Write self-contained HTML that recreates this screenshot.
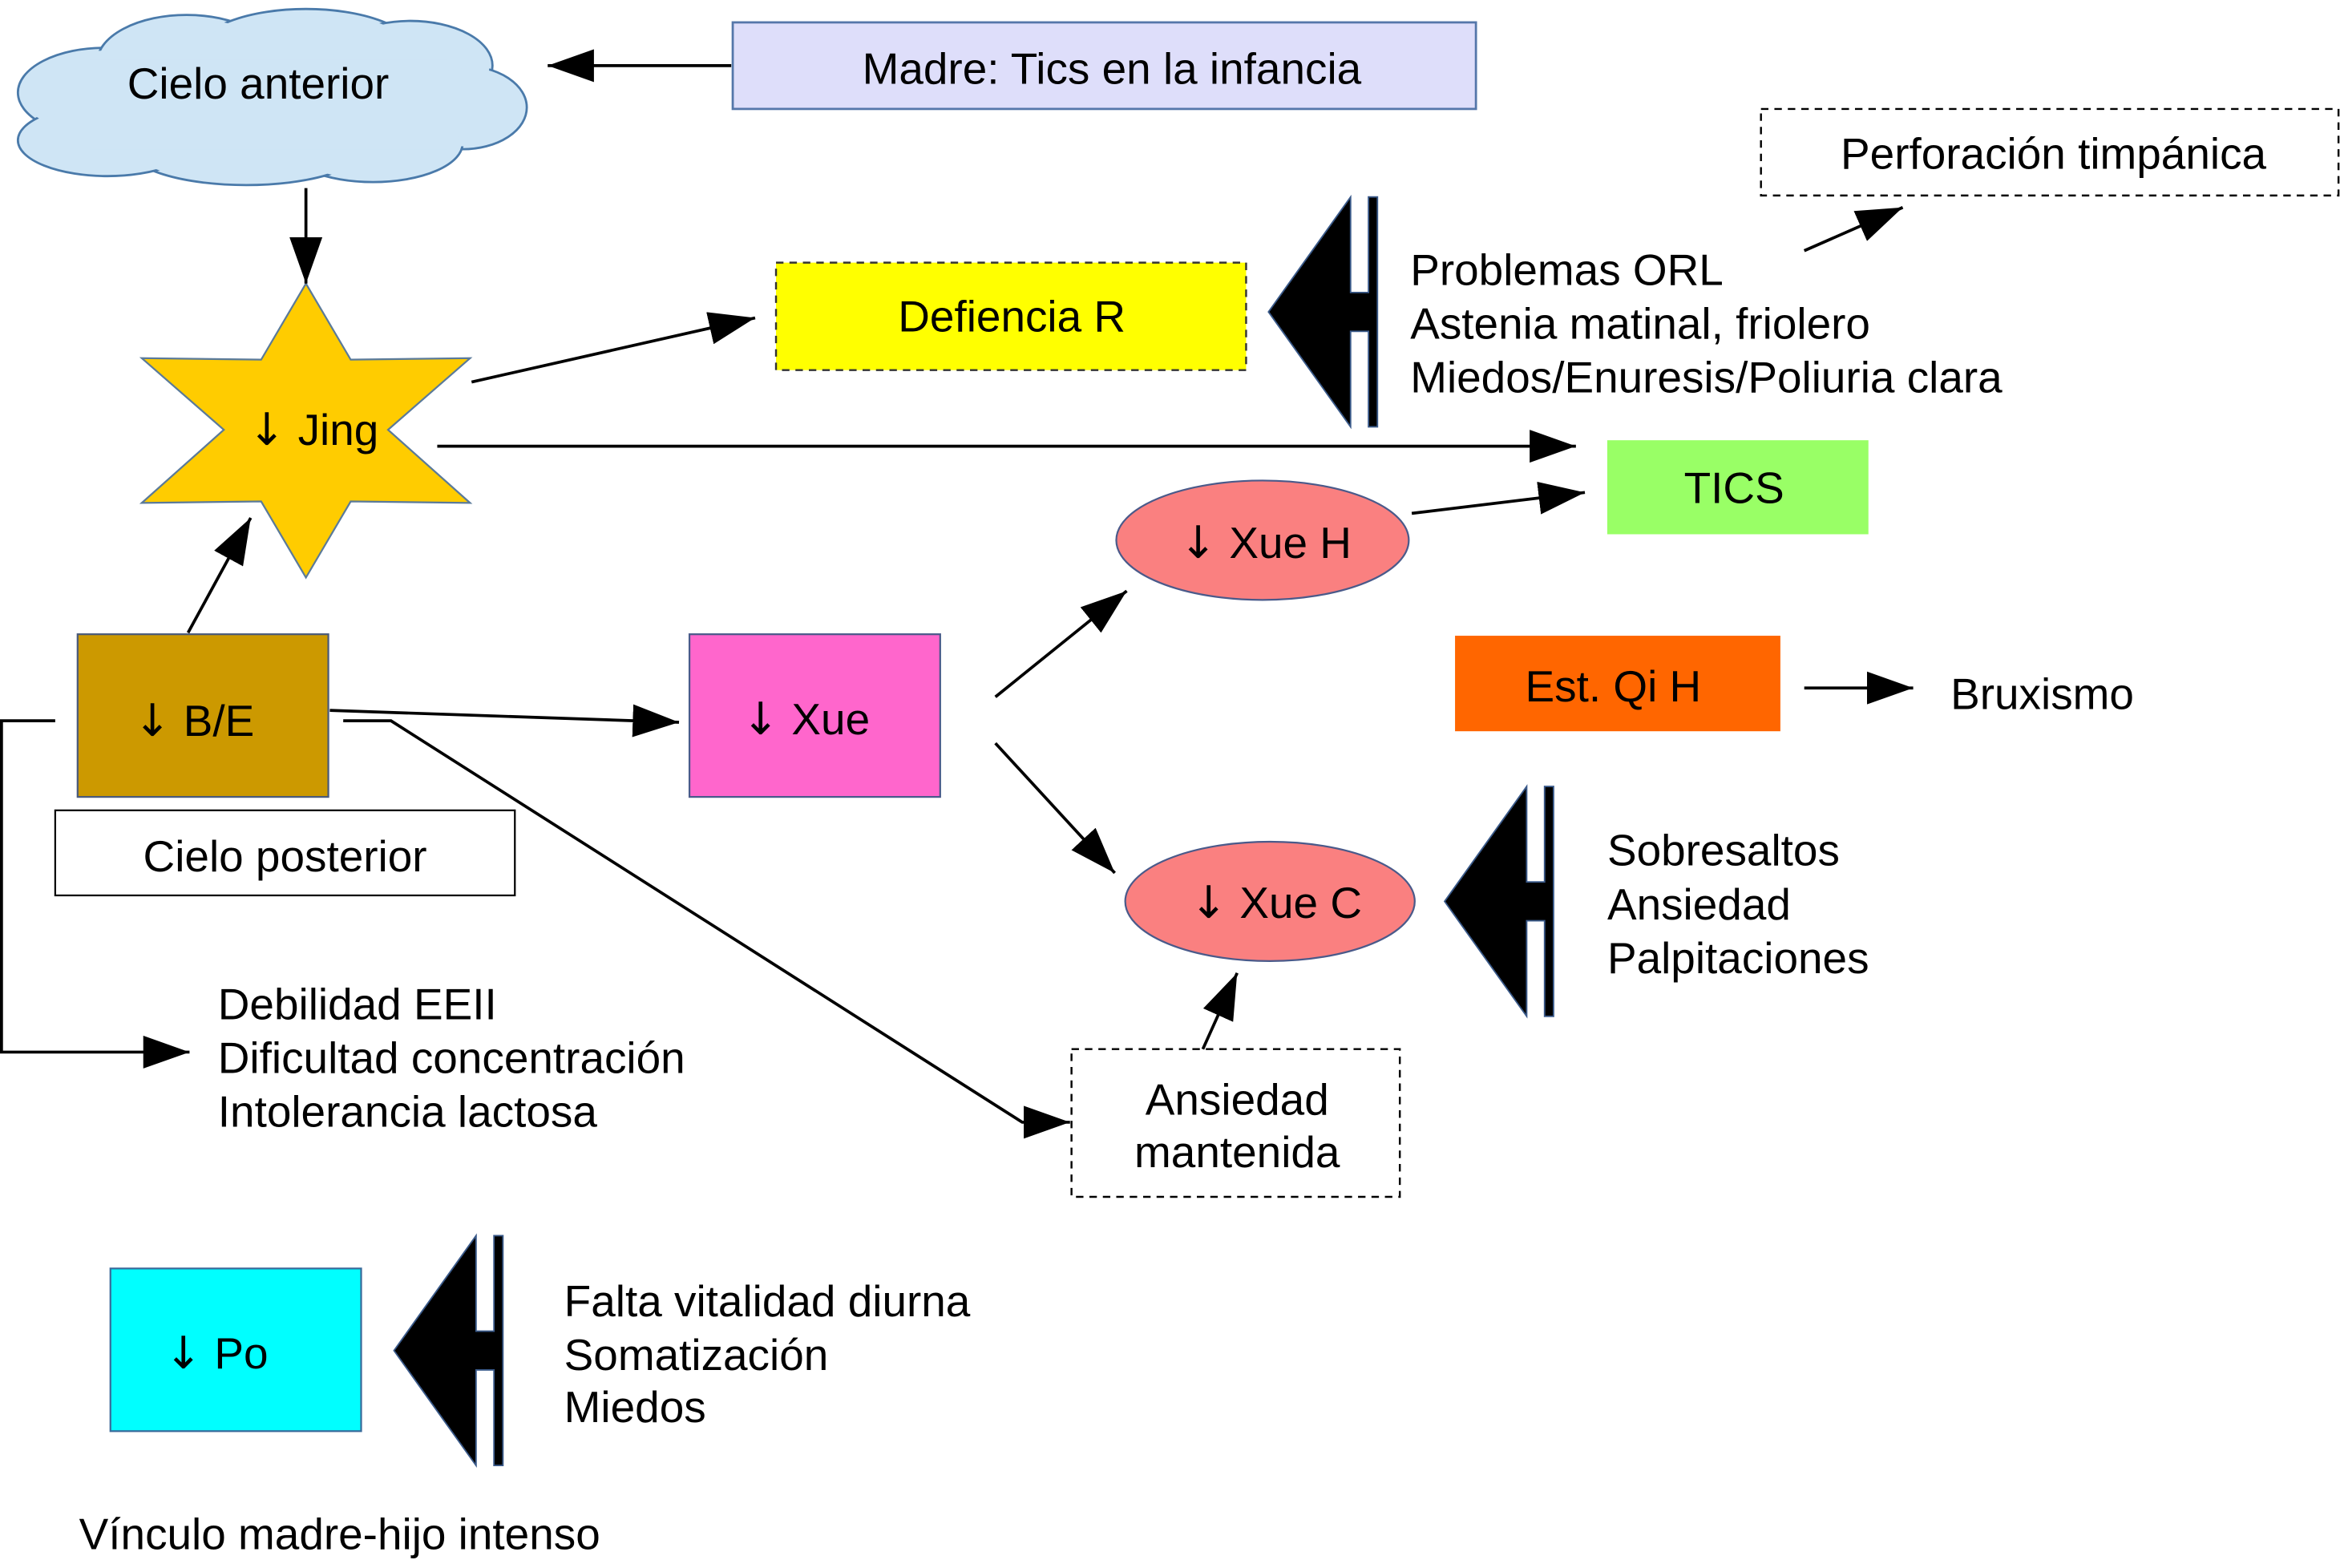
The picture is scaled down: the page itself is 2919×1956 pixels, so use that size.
<!DOCTYPE html>
<html><head><meta charset="utf-8"><style>
html,body{margin:0;padding:0;background:#fff;}
svg{display:block;}
text{font-family:"Liberation Sans",sans-serif;font-size:29.5px;fill:#000;}
.ar{font-family:"DejaVu Sans",sans-serif;font-size:30px;}
</style></head><body>
<svg width="2919" height="1956" viewBox="0 0 1568 1050.7" preserveAspectRatio="none" xmlns="http://www.w3.org/2000/svg">
<defs>
<marker id="a" markerWidth="32" markerHeight="22" refX="31" refY="11" orient="auto" markerUnits="userSpaceOnUse"><path d="M0,0 L31,11 L0,22z" fill="#000"/></marker>
<path id="big" d="M0,77 L55,0 L55,64 L67,64 L67,0 L73,0 L73,154 L67,154 L67,90 L55,90 L55,154 Z" fill="#000" stroke="#3a5a8a" stroke-width="1"/>
</defs>
<rect width="1568" height="1050.7" fill="#fff"/>

<!-- cloud -->
<g stroke="#4a7aaa" stroke-width="1.5" fill="#cfe5f5">
<ellipse cx="70" cy="62" rx="58" ry="30"/>
<ellipse cx="125" cy="42" rx="60" ry="32"/>
<ellipse cx="205" cy="34" rx="72" ry="28"/>
<ellipse cx="275" cy="44" rx="55" ry="30"/>
<ellipse cx="310" cy="72" rx="43" ry="28"/>
<ellipse cx="250" cy="96" rx="60" ry="26"/>
<ellipse cx="165" cy="100" rx="78" ry="24"/>
<ellipse cx="72" cy="94" rx="60" ry="24"/>
</g>
<g fill="#cfe5f5">
<ellipse cx="70" cy="62" rx="56" ry="28"/>
<ellipse cx="125" cy="42" rx="58" ry="30"/>
<ellipse cx="205" cy="34" rx="70" ry="26"/>
<ellipse cx="275" cy="44" rx="53" ry="28"/>
<ellipse cx="310" cy="72" rx="41" ry="26"/>
<ellipse cx="250" cy="96" rx="58" ry="24"/>
<ellipse cx="165" cy="100" rx="76" ry="22"/>
<ellipse cx="72" cy="94" rx="58" ry="22"/>
<rect x="60" y="40" width="240" height="60"/>
</g>
<text x="173" y="66" text-anchor="middle">Cielo anterior</text>

<rect x="491" y="15" width="498" height="58" fill="#dedefa" stroke="#5577aa" stroke-width="1.5"/>
<text x="745" y="56" text-anchor="middle">Madre: Tics en la infancia</text>

<rect x="1180" y="73" width="387" height="58" fill="none" stroke="#000" stroke-width="1.3" stroke-dasharray="5,4"/>
<text x="1376" y="113" text-anchor="middle">Perforación timpánica</text>

<rect x="520" y="176" width="315" height="72" fill="#ffff00" stroke="#333" stroke-width="1.3" stroke-dasharray="5,4"/>
<text x="678" y="222" text-anchor="middle">Defiencia R</text>

<polygon points="205,190 235,241 315,240 260,288 315,337 235,336 205,387 175,336 95,337 150,288 95,240 175,241" fill="#ffcc00" stroke="#5a7a9a" stroke-width="1.2"/>
<text x="210" y="298" text-anchor="middle"><tspan class="ar">↓</tspan> Jing</text>

<use href="#big" x="850" y="132"/>
<text x="945" y="191">Problemas ORL</text>
<text x="945" y="227">Astenia matinal, friolero</text>
<text x="945" y="263">Miedos/Enuresis/Poliuria clara</text>

<rect x="1077" y="295" width="175" height="63" fill="#99ff66"/>
<text x="1162" y="337" text-anchor="middle">TICS</text>

<ellipse cx="846" cy="362" rx="98" ry="40" fill="#fa8080" stroke="#4a5a8a" stroke-width="1.2"/>
<text x="848" y="374" text-anchor="middle"><tspan class="ar">↓</tspan> Xue H</text>

<rect x="52" y="425" width="168" height="109" fill="#cc9900" stroke="#4a5a7a" stroke-width="1.2"/>
<text x="130" y="493" text-anchor="middle"><tspan class="ar">↓</tspan> B/E</text>

<rect x="37" y="543" width="308" height="57" fill="#fff" stroke="#000" stroke-width="1.2"/>
<text x="191" y="584" text-anchor="middle">Cielo posterior</text>

<rect x="462" y="425" width="168" height="109" fill="#ff66cc" stroke="#4a5a8a" stroke-width="1.2"/>
<text x="540" y="492" text-anchor="middle"><tspan class="ar">↓</tspan> Xue</text>

<rect x="975" y="426" width="218" height="64" fill="#ff6600"/>
<text x="1081" y="470" text-anchor="middle">Est. Qi H</text>
<text x="1307" y="475">Bruxismo</text>

<ellipse cx="851" cy="604" rx="97" ry="40" fill="#fa8080" stroke="#4a5a8a" stroke-width="1.2"/>
<text x="855" y="615" text-anchor="middle"><tspan class="ar">↓</tspan> Xue C</text>

<use href="#big" x="968" y="527"/>
<text x="1077" y="580">Sobresaltos</text>
<text x="1077" y="616">Ansiedad</text>
<text x="1077" y="652">Palpitaciones</text>

<text x="146" y="683">Debilidad EEII</text>
<text x="146" y="719">Dificultad concentración</text>
<text x="146" y="755">Intolerancia lactosa</text>

<rect x="718" y="703" width="220" height="99" fill="#fff" stroke="#000" stroke-width="1.3" stroke-dasharray="5,4"/>
<text x="829" y="747" text-anchor="middle">Ansiedad</text>
<text x="829" y="782" text-anchor="middle">mantenida</text>

<rect x="74" y="850" width="168" height="109" fill="#00ffff" stroke="#3a6a9a" stroke-width="1.2"/>
<text x="145" y="917" text-anchor="middle"><tspan class="ar">↓</tspan> Po</text>

<use href="#big" x="264" y="828"/>
<text x="378" y="882">Falta vitalidad diurna</text>
<text x="378" y="918">Somatización</text>
<text x="378" y="953">Miedos</text>

<text x="53" y="1038">Vínculo madre-hijo intenso</text>

<g stroke="#000" stroke-width="2" fill="none" marker-end="url(#a)">
<line x1="490" y1="44" x2="367" y2="44"/>
<line x1="205" y1="126" x2="205" y2="190"/>
<line x1="316" y1="256" x2="506" y2="213"/>
<line x1="293" y1="299" x2="1056" y2="299"/>
<line x1="126" y1="424" x2="168" y2="347"/>
<line x1="221" y1="476" x2="455" y2="484"/>
<polyline points="230,483 262,483 685,752 717,752"/>
<polyline points="37,483 1,483 1,705 127,705"/>
<line x1="667" y1="467" x2="755" y2="396"/>
<line x1="667" y1="498" x2="747" y2="585"/>
<line x1="946" y1="344" x2="1062" y2="330"/>
<line x1="806" y1="703" x2="829" y2="652"/>
<line x1="1209" y1="168" x2="1275" y2="139"/>
<line x1="1209" y1="461" x2="1282" y2="461"/>
</g>
</svg>
</body></html>
